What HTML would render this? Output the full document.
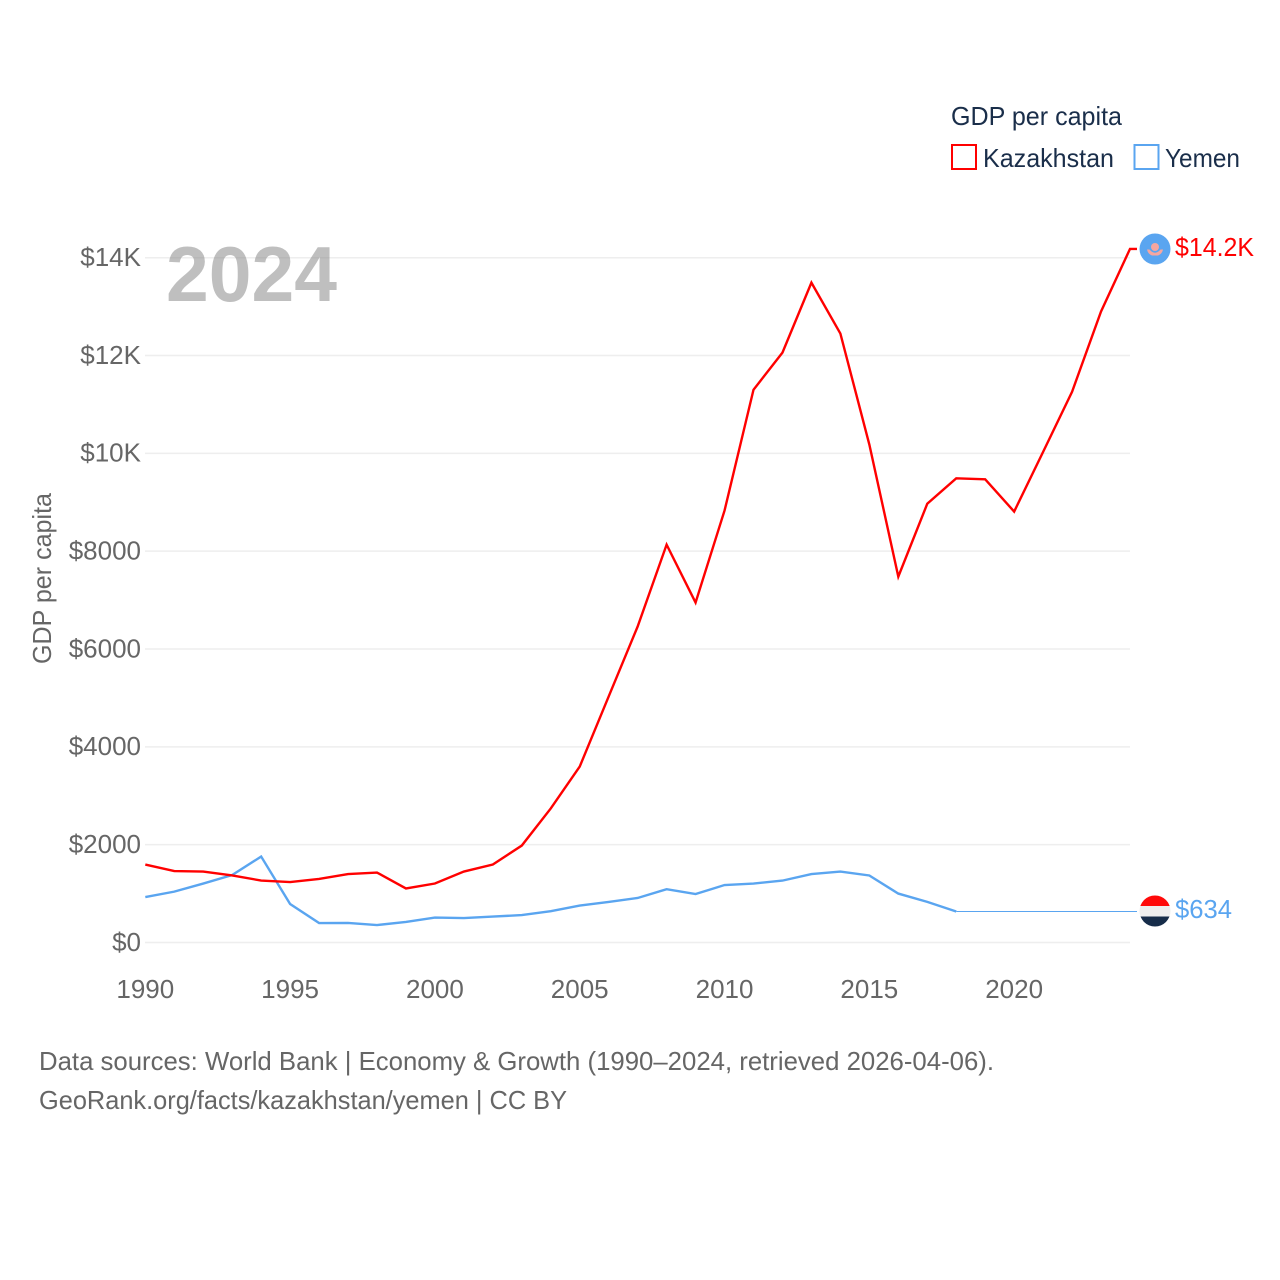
<!DOCTYPE html>
<html lang="en">
<head>
<meta charset="utf-8">
<title>GDP per capita: Kazakhstan vs Yemen</title>
<style>
html,body{margin:0;padding:0;background:#fff;}
svg{display:block;}
text{font-family:"Liberation Sans",sans-serif;}
</style>
</head>
<body>
<svg id="chart" width="1280" height="1280" viewBox="0 0 1280 1280" xmlns="http://www.w3.org/2000/svg">
  <defs>
    <clipPath id="kz-clip"><circle cx="1155" cy="249" r="15.5"/></clipPath>
    <clipPath id="ye-clip"><circle cx="1155" cy="911" r="15.5"/></clipPath>
  </defs>
  <rect x="0" y="0" width="1280" height="1280" fill="#fff"/>
  <g id="grid"></g>
  <g id="y-ticks"></g>
  <g id="x-ticks"></g>
  <text x="166" y="301" font-size="78" font-weight="700" fill="#8a8a8a" fill-opacity="0.55" textLength="171" lengthAdjust="spacingAndGlyphs">2024</text>
  <g id="series"></g>
  <text transform="translate(51,664) rotate(-90)" font-size="26" fill="#666" textLength="171" lengthAdjust="spacingAndGlyphs">GDP per capita</text>

  <g>
    <text x="951" y="125" font-size="26" fill="#1a2e4a" textLength="171" lengthAdjust="spacingAndGlyphs">GDP per capita</text>
    <g>
      <rect x="952" y="145" width="24" height="24" fill="none" stroke="#ff0000" stroke-width="2"/>
      <text x="983" y="167" font-size="26" fill="#1a2e4a" textLength="131" lengthAdjust="spacingAndGlyphs">Kazakhstan</text>
    </g>
    <g>
      <rect x="1134.5" y="145" width="24" height="24" fill="none" stroke="#5aa5f0" stroke-width="2"/>
      <text x="1165" y="167" font-size="26" fill="#1a2e4a" textLength="75" lengthAdjust="spacingAndGlyphs">Yemen</text>
    </g>
  </g>

  <g clip-path="url(#kz-clip)">
    <rect x="1139" y="233" width="32" height="32" fill="#5aa5f0"/>
    <circle cx="1155" cy="247" r="4" fill="#f6a6a0"/>
    <path d="M1147 249.5 L1149.5 249.5 Q1155 256 1160.5 249.5 L1163 249.5 Q1162 254 1158 255.5 L1152 255.5 Q1148 254 1147 249.5 Z" fill="#f6a6a0"/>
  </g>
  <g clip-path="url(#ye-clip)">
    <rect x="1139" y="895" width="32" height="11" fill="#ff0a0a"/>
    <rect x="1139" y="906" width="32" height="10.5" fill="#eeeeee"/>
    <rect x="1139" y="916.5" width="32" height="11" fill="#162c49"/>
  </g>
  <text x="1175" y="256" font-size="26" fill="#ff0000" textLength="79" lengthAdjust="spacingAndGlyphs">$14.2K</text>
  <text x="1175" y="918" font-size="26" fill="#5aa5f0" textLength="57" lengthAdjust="spacingAndGlyphs">$634</text>

  <text x="39" y="1070" font-size="26" fill="#666" textLength="955" lengthAdjust="spacingAndGlyphs">Data sources: World Bank | Economy &amp; Growth (1990–2024, retrieved 2026-04-06).</text>
  <a><text x="39" y="1109" font-size="26" fill="#666" textLength="528" lengthAdjust="spacingAndGlyphs">GeoRank.org/facts/kazakhstan/yemen | CC BY</text></a>
</svg>
<script>
const years = [1990,1991,1992,1993,1994,1995,1996,1997,1998,1999,2000,2001,2002,2003,2004,2005,2006,2007,2008,2009,2010,2011,2012,2013,2014,2015,2016,2017,2018,2019,2020,2021,2022,2023,2024];
const kazakhstan = [1594,1461,1450,1370,1267,1236,1300,1400,1430,1105,1206,1450,1594,1982,2740,3597,5030,6460,8134,6950,8830,11300,12060,13490,12450,10180,7480,8970,9490,9470,8810,10030,11260,12900,14180];
const yemenYears = [1990,1991,1992,1993,1994,1995,1996,1997,1998,1999,2000,2001,2002,2003,2004,2005,2006,2007,2008,2009,2010,2011,2012,2013,2014,2015,2016,2017,2018];
const yemen = [930,1040,1205,1380,1757,787,398,400,357,420,510,500,530,560,640,755,830,910,1090,990,1175,1205,1265,1400,1450,1370,1000,830,634];
const yemenLatestYear = 2024;
const yemenLatest = 634;
const yTickValues = [0,2000,4000,6000,8000,10000,12000,14000];
const yTickLabels = ["$0","$2000","$4000","$6000","$8000","$10K","$12K","$14K"];
const xTickValues = [1990,1995,2000,2005,2010,2015,2020];

const NS = 'http://www.w3.org/2000/svg';
function xScale(year){ return 145.3 + (year - 1990) * (1130 - 145.3) / (2024 - 1990); }
function yScale(value){ return 942.5 - value * (942.5 - 257.7) / 14000; }
function pathFrom(xs, ys){
  return xs.map(function(x, i){ return (i ? 'L' : 'M') + xScale(x).toFixed(2) + ' ' + yScale(ys[i]).toFixed(2); }).join(' ');
}

const gridGroup = document.getElementById('grid');
const yGroup = document.getElementById('y-ticks');
const xGroup = document.getElementById('x-ticks');
const seriesGroup = document.getElementById('series');

yTickValues.forEach(function(v, i){
  const line = document.createElementNS(NS, 'line');
  
  
  line.setAttribute('x1', 145);
  line.setAttribute('x2', 1130);
  line.setAttribute('y1', yScale(v));
  line.setAttribute('y2', yScale(v));
  line.setAttribute('stroke', '#eeeeee');
  line.setAttribute('stroke-width', '1.5');
  gridGroup.appendChild(line);

  const label = document.createElementNS(NS, 'text');
  
  
  label.setAttribute('x', 141);
  label.setAttribute('y', yScale(v) + 8.3);
  label.setAttribute('text-anchor', 'end');
  label.setAttribute('font-size', '26');
  label.setAttribute('fill', '#666');
  label.textContent = yTickLabels[i];
  yGroup.appendChild(label);
});

xTickValues.forEach(function(v){
  const label = document.createElementNS(NS, 'text');
  
  
  label.setAttribute('x', xScale(v));
  label.setAttribute('y', 998);
  label.setAttribute('text-anchor', 'middle');
  label.setAttribute('font-size', '26');
  label.setAttribute('fill', '#666');
  label.textContent = String(v);
  xGroup.appendChild(label);
});

const yemenLine = document.createElementNS(NS, 'path');


yemenLine.setAttribute('d', pathFrom(yemenYears, yemen));
yemenLine.setAttribute('fill', 'none');
yemenLine.setAttribute('stroke', '#5aa5f0');
yemenLine.setAttribute('stroke-width', '2.4');
seriesGroup.appendChild(yemenLine);

const lastYemenIndex = yemenYears.length - 1;
const yemenGap = document.createElementNS(NS, 'path');


yemenGap.setAttribute('d', 'M' + xScale(yemenYears[lastYemenIndex]) + ' ' + yScale(yemen[lastYemenIndex]) + ' L' + xScale(yemenLatestYear) + ' ' + yScale(yemenLatest) + ' h7');
yemenGap.setAttribute('fill', 'none');
yemenGap.setAttribute('stroke', '#5aa5f0');
yemenGap.setAttribute('stroke-width', '1');
seriesGroup.appendChild(yemenGap);

const kazLine = document.createElementNS(NS, 'path');


kazLine.setAttribute('d', pathFrom(years, kazakhstan) + ' h7');
kazLine.setAttribute('fill', 'none');
kazLine.setAttribute('stroke', '#ff0000');
kazLine.setAttribute('stroke-width', '2.4');
seriesGroup.appendChild(kazLine);
</script>
</body>
</html>
